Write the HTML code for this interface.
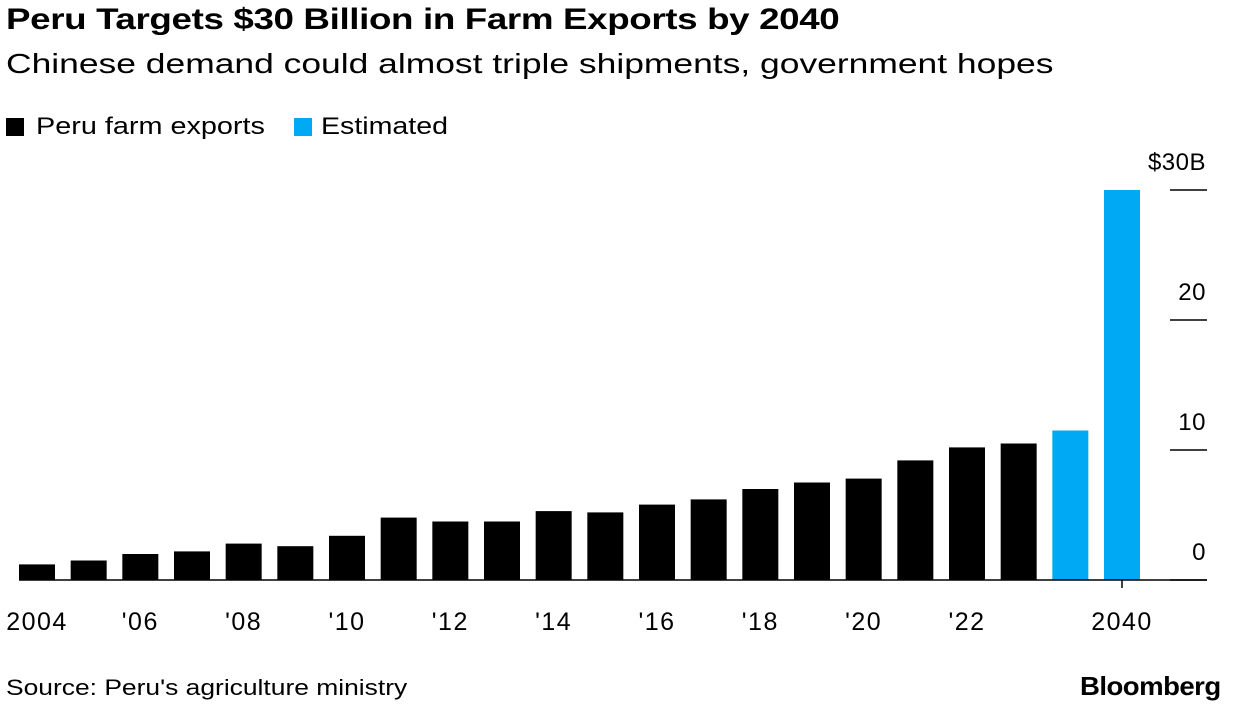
<!DOCTYPE html>
<html><head><meta charset="utf-8"><style>
body{margin:0;background:#fff;font-family:"Liberation Sans",sans-serif;}
#wrap{position:relative;width:1238px;height:708px;overflow:hidden}
.t{position:absolute;white-space:nowrap;color:#000;transform-origin:0 0}
</style></head><body><div id="wrap">
<div class="t" style="left:6px;top:3px;font-size:30px;font-weight:bold;letter-spacing:-0.3px;transform:scaleX(1.225)">Peru Targets $30 Billion in Farm Exports by 2040</div>
<div class="t" style="left:6px;top:48px;font-size:28px;transform:scaleX(1.265)">Chinese demand could almost triple shipments, government hopes</div>
<div class="t" style="left:6px;top:113px;font-size:24px"><span style="display:inline-block;width:18px;height:18px;background:#000;vertical-align:-2px;margin-right:12px"></span><span style="display:inline-block;transform:scaleX(1.2);transform-origin:0 0">Peru farm exports</span></div>
<div class="t" style="left:294px;top:113px;font-size:24px"><span style="display:inline-block;width:18px;height:18px;background:#00a9f4;vertical-align:-2px;margin-right:9px"></span><span style="display:inline-block;transform:scaleX(1.19);transform-origin:0 0">Estimated</span></div>
<svg id="svg" width="1238" height="708" style="position:absolute;left:0;top:0"></svg>
<div class="t" style="left:6px;top:675px;font-size:22px;transform:scaleX(1.2)">Source: Peru's agriculture ministry</div>
<div class="t" style="left:1080px;top:671px;font-size:26px;font-weight:bold;letter-spacing:-0.5px;transform:scaleX(1.06)">Bloomberg</div>
</div>
<script>
const categories=['2004','2005','2006','2007','2008','2009','2010','2011','2012','2013','2014','2015','2016','2017','2018','2019','2020','2021','2022','2023','2024','2040'];
const values=[1.2,1.5,2.0,2.2,2.8,2.6,3.4,4.8,4.5,4.5,5.3,5.2,5.8,6.2,7.0,7.5,7.8,9.2,10.2,10.5,11.5,30];
const estimated=[0,0,0,0,0,0,0,0,0,0,0,0,0,0,0,0,0,0,0,0,1,1];
const yTicks=[0,10,20,30];
const yTickLabels=['0','10','20','$30B'];
const xLabels={'2004':'2004','2006':"'06",'2008':"'08",'2010':"'10",'2012':"'12",'2014':"'14",'2016':"'16",'2018':"'18",'2020':"'20",'2022':"'22",'2040':'2040'};
const NS='http://www.w3.org/2000/svg',svg=document.getElementById('svg');
const base=580,ppu=13,x0=37,step=(1122-37)/21,bw=36;
const y=v=>base-v*ppu, x=i=>x0+i*step;
function mk(t,a){const e=document.createElementNS(NS,t);for(const k in a)e.setAttribute(k,a[k]);svg.appendChild(e);return e;}
yTicks.forEach((v,i)=>{
 const l=mk('line',{x1:1170,x2:1207,y1:y(v),y2:y(v),stroke:'#000','stroke-width':1.5});
 
 
 const t=mk('text',{x:1206,y:y(v)-20,'text-anchor':'end','font-size':24,'letter-spacing':0.5,'font-family':'Liberation Sans'});
 t.textContent=yTickLabels[i];
 
 
});
values.forEach((v,i)=>{
 const r=mk('rect',{x:x(i)-bw/2,y:y(v),width:bw,height:v*ppu,fill:estimated[i]?'#00a9f4':'#000'});
 
 
 const lab=xLabels[categories[i]];
 if(lab){
  const t=mk('text',{x:x(i),y:630,'text-anchor':'middle','font-size':25,'letter-spacing':1.5,'font-family':'Liberation Sans'});
  t.textContent=lab;
  
  
 }
});
const ax=mk('line',{x1:19,x2:1207,y1:base,y2:base,stroke:'#000','stroke-width':1.5});


const tk=mk('line',{x1:x(21),x2:x(21),y1:base,y2:base+8,stroke:'#000','stroke-width':1.5});


</script></body></html>
